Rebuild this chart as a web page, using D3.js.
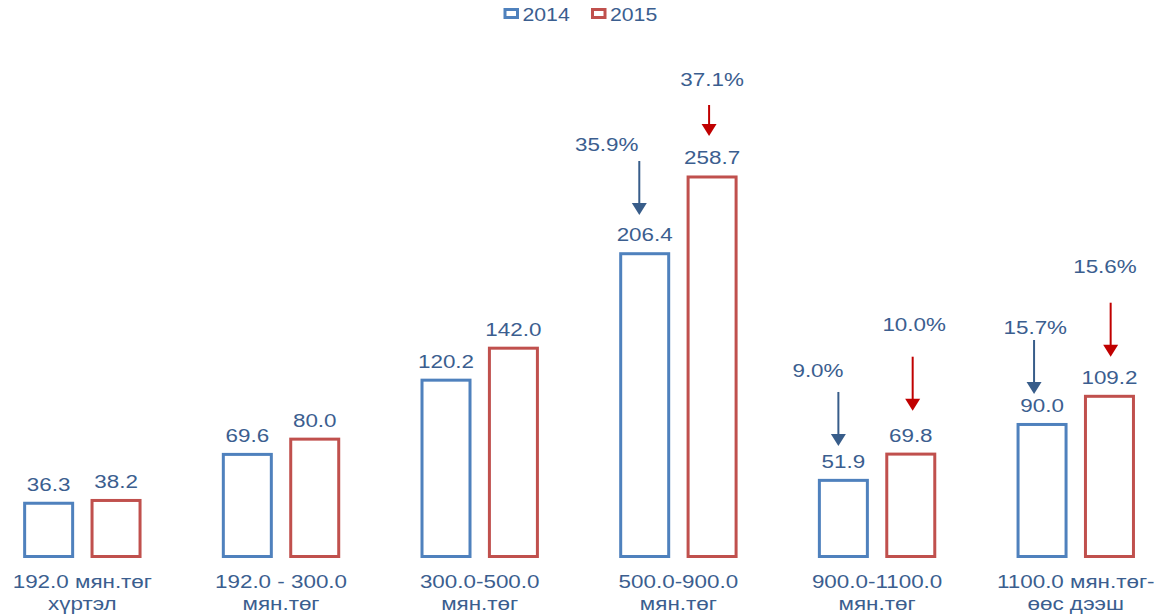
<!DOCTYPE html>
<html>
<head>
<meta charset="utf-8">
<script src="https://cdn.jsdelivr.net/npm/d3@7"></script>
<style>
  html, body { margin: 0; padding: 0; background: #fff; }
  svg { display: block; }
  text { font-family: "Liberation Sans", Arial, sans-serif; fill: #3B5E8F; }
</style>
</head>
<body>
<svg id="chart" width="1165" height="616"></svg>
<script>
// ---- data ----
const categories = [
  ["192.0 мян.төг", "хүртэл"],
  ["192.0 - 300.0", "мян.төг"],
  ["300.0-500.0", "мян.төг"],
  ["500.0-900.0", "мян.төг"],
  ["900.0-1100.0", "мян.төг"],
  ["1100.0 мян.төг-", "өөс дээш"]
];
const seriesNames = ["2014", "2015"];
const values2014 = [36.3, 69.6, 120.2, 206.4, 51.9, 90.0];
const values2015 = [38.2, 80.0, 142.0, 258.7, 69.8, 109.2];
const shares2014 = [null, null, null, 35.9, 9.0, 15.7];
const shares2015 = [null, null, null, 37.1, 10.0, 15.6];

// ---- styles / layout (not data) ----
const barStroke = ["#4F81BD", "#C0504D"];
const arrowColor = ["#385D8A", "#C00000"];
// annotation layout per series per category: [arrowDx, tipGap, arrowLen, textDx, textGap]
const annoLayout2014 = [null, null, null, [-5.4, 38.7, 54, -38, 10], [-5, 34.4, 54, -25.4, 14.6], [-8, 30.5, 54, -6.8, 6]];
const annoLayout2015 = [null, null, null, [-3, 41, 31, 0, 19], [1.9, 43.4, 54, 3.4, 25.7], [1.2, 39.6, 54, -4.5, 30]];
const stretch = 1.18;

const svg = d3.select("#chart");
const values = [values2014, values2015];
const shares = [shares2014, shares2015];
const layouts = [annoLayout2014, annoLayout2015];

const x = d3.scaleBand()
  .domain(d3.range(categories.length))
  .range([-17, 1175.1])
  .padding(0);
const xSub = d3.scalePoint().domain(seriesNames).range([-33.7, 33.7]);
const y = d3.scaleLinear().domain([0, 300]).range([556.5, 556.5 - 300 * 1.467]);
const barW = 48;
const cx = (i) => x(i) + x.bandwidth() / 2;

function stretchedText(g, tx, ty, str, anchor, size) {
  g.append("text")
    .attr("transform", `translate(${tx},${ty}) scale(${stretch},1)`)
    .attr("text-anchor", anchor)
    .style("font-size", size + "px")
    .text(str);
}

// bars
seriesNames.forEach((s, si) => {
  const g = svg.append("g");
  g.selectAll("rect")
    .data(values[si])
    .join("rect")
    .attr("x", (d, i) => cx(i) + xSub(s) - barW / 2)
    .attr("y", d => y(d))
    .attr("width", barW)
    .attr("height", d => y(0) - y(d))
    .attr("fill", "none")
    .attr("stroke", barStroke[si])
    .attr("stroke-width", 3);
  values[si].forEach((v, i) => {
    stretchedText(svg, cx(i) + xSub(s), y(v) - 12.5, d3.format(".1f")(v), "middle", 19);
  });
});

// arrows and share labels
seriesNames.forEach((s, si) => {
  shares[si].forEach((p, i) => {
    if (p == null) return;
    const [adx, tipGap, len, tdx, tgap] = layouts[si][i];
    const bx = cx(i) + xSub(s);
    const ax = bx + adx;
    const tip = y(values[si][i]) - tipGap;
    const top = tip - len;
    const headH = 12, headW = 15;
    svg.append("line")
      .attr("x1", ax).attr("x2", ax)
      .attr("y1", top).attr("y2", tip - headH + 1)
      .attr("stroke", arrowColor[si]).attr("stroke-width", 2);
    svg.append("path")
      .attr("d", `M${ax - headW / 2},${tip - headH} L${ax + headW / 2},${tip - headH} L${ax},${tip} Z`)
      .attr("fill", arrowColor[si]);
    stretchedText(svg, bx + tdx, top - tgap, d3.format(".1f")(p) + "%", "middle", 19);
  });
});

// category labels
categories.forEach((lines, i) => {
  lines.forEach((ln, li) => {
    stretchedText(svg, cx(i), 588.3 + li * 21.7, ln, "middle", 19);
  });
});

// legend
const legendItems = [{ name: seriesNames[0], x: 505 }, { name: seriesNames[1], x: 592.5 }];
legendItems.forEach((it, si) => {
  svg.append("rect")
    .attr("x", it.x).attr("y", 9.5)
    .attr("width", 12.5).attr("height", 8)
    .attr("fill", "none")
    .attr("stroke", barStroke[si]).attr("stroke-width", 3);
  stretchedText(svg, it.x + 17.5, 20.7, it.name, "start", 18);
});
</script>
</body>
</html>
